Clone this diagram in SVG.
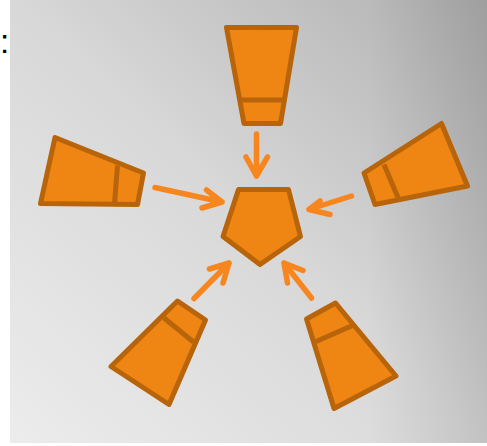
<svg xmlns="http://www.w3.org/2000/svg" width="487" height="446" viewBox="0 0 487 446">
<defs>
<linearGradient id="bg" x1="0" y1="1" x2="1" y2="0">
<stop offset="0" stop-color="#ececec"/>
<stop offset="0.5" stop-color="#d8d8d8"/>
<stop offset="1" stop-color="#b0b0b0"/>
</linearGradient>
<linearGradient id="edge" x1="0" y1="0" x2="1" y2="0">
<stop offset="0.75" stop-color="#000" stop-opacity="0"/>
<stop offset="1" stop-color="#000" stop-opacity="0.1"/>
</linearGradient>
<style>
.shape{fill:#EF8512;stroke:#B8640B;stroke-width:5;stroke-linejoin:round}
.div{fill:none;stroke:#B8640B;stroke-width:5;stroke-linecap:butt}
.arr{fill:none;stroke:#F7861E;stroke-width:5.5;stroke-linecap:round;stroke-linejoin:round}
.lbl{font-family:"Liberation Sans",Arial,sans-serif;font-size:33px;fill:#000}
</style>
</defs>
<rect x="0" y="0" width="487" height="446" fill="#fff"/>
<rect x="10" y="0" width="477" height="443" fill="url(#bg)"/>
<rect x="10" y="0" width="477" height="443" fill="url(#edge)"/>
<text class="lbl" x="0" y="53">:</text>
<g id="connectors">
<path class="arr" d="M256.5,134 L256.5,176 M246,157 L256.5,176 L267.5,157"/>
<path class="arr" d="M155,187.5 L222,202 M206.5,190 L222,202 L202,208"/>
<path class="arr" d="M351.5,196 L309,209.5 M320,201 L309,209.5 L330,214.5"/>
<path class="arr" d="M194,298.5 L229,263 M209.5,269 L229,263 L223,283"/>
<path class="arr" d="M311.5,298 L284,263 M287.5,283 L284,263 L303,270.5"/>
</g>
<g id="center">
<polygon class="shape" points="238.5,189.5 288.5,189.5 300.5,236.5 260,264.5 223,236.5"/>
</g>
<g id="top">
<polygon class="shape" points="226.5,27.5 296.5,27.5 280.5,123.5 244,123.5"/>
<line class="div" x1="239.7" y1="100" x2="284.4" y2="100"/>
</g>
<g id="left">
<polygon class="shape" points="55,137.5 143.5,173 137.5,204.5 40.5,203.5"/>
<line class="div" x1="117.5" y1="165.5" x2="114.5" y2="204"/>
</g>
<g id="right">
<polygon class="shape" points="441.5,123.5 467.5,186 375,204.5 364,173"/>
<line class="div" x1="384" y1="164.5" x2="399" y2="200"/>
</g>
<g id="bottom-left">
<polygon class="shape" points="177.5,301 205.5,320 169,404.5 111,366.5"/>
<line class="div" x1="164" y1="318" x2="193.5" y2="342"/>
</g>
<g id="bottom-right">
<polygon class="shape" points="335.5,303 306.5,319 334,408.5 396,376"/>
<line class="div" x1="316" y1="341.5" x2="352.5" y2="325.5"/>
</g>
</svg>
